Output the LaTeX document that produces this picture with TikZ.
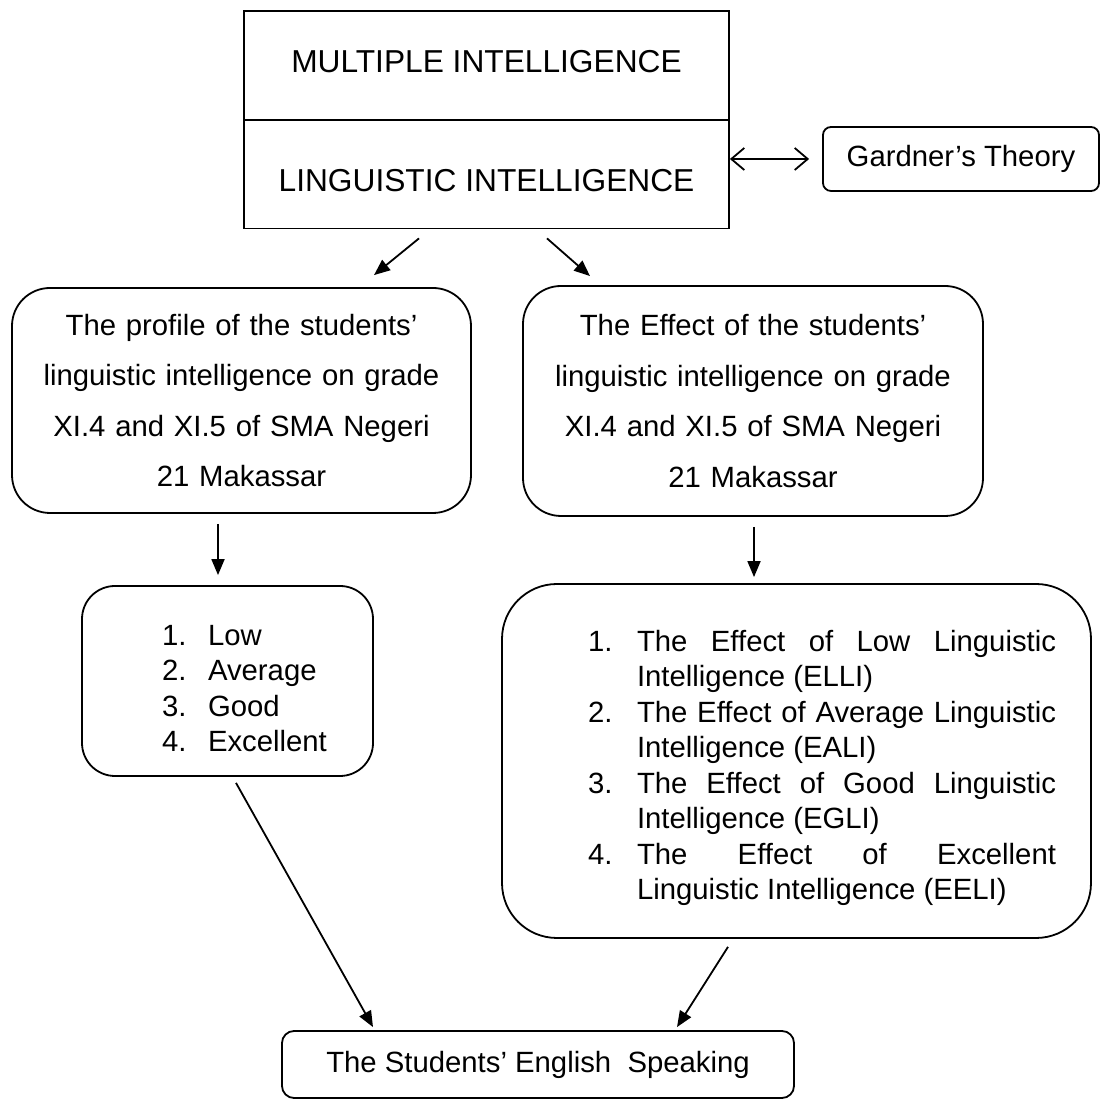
\documentclass[tikz,border=0pt]{standalone}
\usepackage{fontspec}
\setmainfont{Liberation Sans}
\usetikzlibrary{arrows.meta,calc}

\newcommand{\titlefont}{\fontsize{31.7}{38}\selectfont}
\newcommand{\bodyfont}{\fontsize{29.3}{50.5}\selectfont}
\newcommand{\listfont}{\fontsize{29.3}{35.5}\selectfont}
\newcommand{\lowlab}[1]{\makebox[46pt][l]{#1}}
\newcommand{\efflab}[1]{\makebox[49pt][l]{#1}}
\hyphenpenalty=10000
\exhyphenpenalty=10000
\tolerance=10000

\begin{document}
\begin{tikzpicture}[x=1pt,y=1pt]
            \tikzset{sqbox/.style = {draw, line width=1.8pt, inner sep=0pt, minimum width=485pt, minimum height=109pt, font=\titlefont}}
            \tikzset{rbox/.style = {draw, line width=1.8pt, rounded corners=#1, inner sep=0pt}}
            \tikzset{arr/.style = {-{Triangle[length=16pt,width=13pt]}, line width=1.8pt}}
            \tikzset{dblarr/.style = {{Straight Barb[length=13pt,width=22pt,line width=1.8pt]}-{Straight Barb[length=13pt,width=22pt,line width=1.8pt]}, line width=1.8pt}}
            \useasboundingbox (0,0) rectangle (1103,1099);

            % boxes
            \node[sqbox, text height=22.7pt, text depth=7.7pt] (multi) at (486.5,1033.5) {MULTIPLE INTELLIGENCE};
            \node[sqbox, text height=36pt, text depth=0pt] (ling) at (486.5,925) {LINGUISTIC INTELLIGENCE};
            \node[rbox=8pt, minimum width=276pt, minimum height=64pt, font=\bodyfont] (gard) at (961,940) {Gardner's Theory};

            \node[rbox=38pt, minimum width=459pt, minimum height=225pt, text width=440pt, align=center, font=\bodyfont] (prof) at (241.5,698.5)
              {The profile of the students'\\linguistic intelligence on grade\\XI.4 and XI.5 of SMA Negeri\\21 Makassar};
            \node[rbox=38pt, minimum width=460pt, minimum height=230pt, text width=440pt, align=center, font=\bodyfont] (eff) at (753,698)
              {The Effect of the students'\\linguistic intelligence on grade\\XI.4 and XI.5 of SMA Negeri\\21 Makassar};

            \node[rbox=33pt, minimum height=190pt, text width=291pt, align=left, font=\listfont] (low) at (227.5,418)
              {\begin{list}{}{\leftmargin=126pt \labelwidth=46pt \labelsep=0pt \itemsep=0pt \topsep=0pt \parsep=0pt \partopsep=0pt}
               \item[\lowlab{1.}] Low
               \item[\lowlab{2.}] Average
               \item[\lowlab{3.}] Good
               \item[\lowlab{4.}] Excellent
               \end{list}};
            \node[rbox=55pt, minimum height=354pt, text width=589pt, align=justify, font=\listfont] (list) at (796.5,338)
              {\begin{list}{}{\leftmargin=135pt \rightmargin=35pt \labelwidth=49pt \labelsep=0pt \itemsep=0pt \topsep=0pt \parsep=0pt \partopsep=0pt}
               \item[\efflab{1.}] The Effect of Low Linguistic\linebreak Intelligence (ELLI)
               \item[\efflab{2.}] The Effect of Average Linguistic Intelligence (EALI)
               \item[\efflab{3.}] The Effect of Good Linguistic\linebreak Intelligence (EGLI)
               \item[\efflab{4.}] The Effect of Excellent\linebreak Linguistic Intelligence (EELI)
               \end{list}};

            \node[rbox=12pt, minimum width=512pt, minimum height=67pt, font=\bodyfont] (eng) at (538,34.5) {The Students' English\ \ Speaking};

            % edges
            \draw[dblarr, shorten >=13pt] (ling.east |- gard.west) to (gard.west);
            \draw[arr] ($(ling.south)+(-67.5,-9)$) to ($(prof.north)+(132.5,12)$);
            \draw[arr] ($(ling.south)+(60.5,-9)$) to ($(eff.north)+(-163,9)$);
            \draw[arr] ($(prof.south)+(-23.5,-10)$) to ($(low.north)+(-9.5,10)$);
            \draw[arr] ($(eff.south)+(1,-10)$) to ($(list.north)+(-42.5,6)$);
            \draw[arr] ($(low.south)+(8.5,-6)$) to ($(eng.north)+(-165,3)$);
            \draw[arr] ($(list.south)+(-68.5,-8)$) to ($(eng.north)+(139,3)$);

\end{tikzpicture}
\end{document}
